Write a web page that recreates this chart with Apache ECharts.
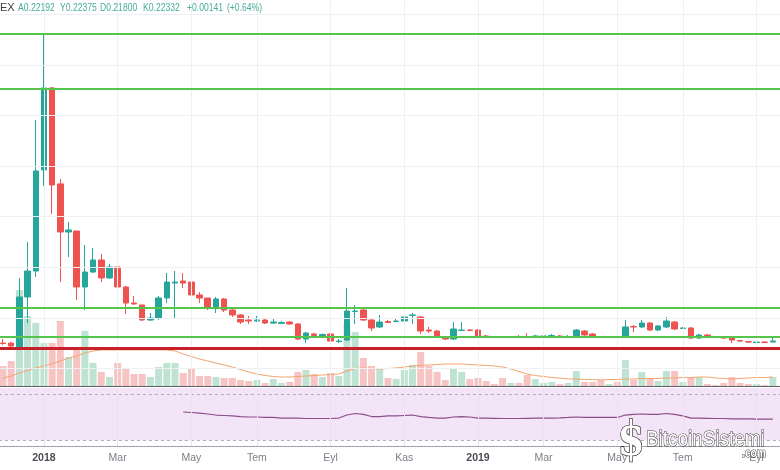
<!DOCTYPE html>
<html>
<head>
<meta charset="utf-8">
<script src="https://cdn.jsdelivr.net/npm/echarts/dist/echarts.min.js"></script>
<style>
html,body{margin:0;padding:0;background:#fff;}
#chart{width:780px;height:470px;}
</style>
</head>
<body>
<div id="chart"></div>
<script>
// ---- categories: weekly bars (Monday of each week) ----
const weekDates = (function () {
  const out = [];
  const t0 = Date.UTC(2017, 10, 27);
  for (let i = 0; i < 96; i++) out.push(new Date(t0 + i * 7 * 864e5).toISOString().slice(0, 10));
  return out;
})();

// ---- tick labels ----
const tickDates = ['2018-01-01','2018-03-05','2018-05-07','2018-07-02','2018-09-03','2018-11-05','2019-01-07','2019-03-04','2019-05-06','2019-07-01','2019-09-02'];
const tickTexts = ['2018','Mar','May','Tem','Eyl','Kas','2019','Mar','May','Tem','Eyl'];
const priceGridLevels = [0, 0.5, 1.0, 1.5, 2.0, 2.5, 3.0, 3.5];

// ---- OHLC ----
const open = [0.250,0.250,0.211,0.706,0.963,1.963,2.775,1.825,1.349,1.359,
  0.805,0.953,1.072,0.894,1.003,0.805,0.646,0.627,0.478,0.498,
  0.696,0.844,0.864,0.854,0.726,0.696,0.597,0.686,0.577,0.528,
  0.478,0.468,0.478,0.448,0.444,0.458,0.439,0.290,0.340,0.320,
  0.340,0.265,0.280,0.562,0.577,0.478,0.409,0.463,0.463,0.468,
  0.523,0.508,0.379,0.369,0.310,0.290,0.374,0.379,0.379,0.320,
  0.310,0.310,0.305,0.315,0.315,0.315,0.315,0.315,0.320,0.310,
  0.320,0.369,0.340,0.315,0.305,0.310,0.310,0.414,0.409,0.448,
  0.379,0.409,0.458,0.394,0.399,0.300,0.330,0.310,0.310,0.300,
  0.275,0.265,0.255,0.260,0.260];
const close = [0.246,0.221,0.706,0.963,1.953,2.775,1.815,1.349,1.369,0.805,
  0.953,1.072,0.894,1.003,0.805,0.646,0.637,0.478,0.498,0.696,
  0.854,0.854,0.844,0.726,0.696,0.597,0.686,0.577,0.528,0.458,
  0.468,0.478,0.448,0.458,0.453,0.439,0.290,0.349,0.325,0.335,
  0.270,0.270,0.567,0.567,0.478,0.399,0.458,0.453,0.468,0.508,
  0.528,0.369,0.369,0.310,0.290,0.389,0.379,0.374,0.320,0.310,
  0.305,0.305,0.310,0.310,0.310,0.320,0.320,0.325,0.305,0.315,
  0.379,0.330,0.310,0.310,0.310,0.305,0.409,0.409,0.448,0.379,
  0.419,0.468,0.389,0.399,0.300,0.330,0.310,0.305,0.300,0.280,
  0.270,0.260,0.260,0.255,0.270];
const low = [0.231,0.211,0.201,0.448,0.904,1.805,1.528,0.854,1.102,0.676,
  0.577,0.943,0.854,0.884,0.726,0.538,0.627,0.468,0.468,0.478,
  0.646,0.488,0.795,0.627,0.646,0.577,0.547,0.557,0.508,0.439,
  0.439,0.458,0.439,0.439,0.439,0.429,0.280,0.250,0.310,0.310,
  0.260,0.250,0.270,0.439,0.468,0.369,0.399,0.448,0.458,0.458,
  0.439,0.340,0.349,0.300,0.280,0.280,0.369,0.369,0.310,0.305,
  0.300,0.300,0.300,0.300,0.300,0.310,0.310,0.310,0.300,0.300,
  0.310,0.320,0.305,0.300,0.300,0.300,0.300,0.359,0.399,0.369,
  0.369,0.399,0.379,0.389,0.290,0.290,0.300,0.300,0.290,0.250,
  0.260,0.250,0.250,0.250,0.260];
const high = [0.290,0.260,0.894,1.250,2.458,3.319,2.785,1.874,1.448,1.359,
  1.221,1.191,1.132,1.033,1.082,0.815,0.716,0.627,0.547,0.716,
  0.943,0.963,0.943,0.864,0.755,0.696,0.706,0.696,0.587,0.538,
  0.518,0.518,0.488,0.498,0.468,0.468,0.448,0.359,0.349,0.345,
  0.349,0.290,0.795,0.627,0.587,0.488,0.528,0.478,0.488,0.567,
  0.547,0.518,0.409,0.379,0.320,0.458,0.458,0.389,0.389,0.330,
  0.320,0.320,0.320,0.330,0.349,0.330,0.325,0.340,0.330,0.330,
  0.389,0.379,0.349,0.320,0.320,0.320,0.478,0.429,0.478,0.458,
  0.429,0.508,0.468,0.409,0.409,0.340,0.340,0.320,0.320,0.310,
  0.280,0.270,0.270,0.270,0.310];

// ---- volume and its moving average ----
const volume = [2.0,2.5,9.6,7.0,6.3,4.3,4.3,6.5,2.9,3.6,
  5.5,2.3,1.4,0.9,2.3,1.7,1.2,1.2,0.9,1.9,
  2.3,2.3,1.3,1.7,1.0,1.0,0.9,0.8,0.8,0.6,
  0.5,0.6,0.3,0.7,0.3,0.4,1.4,1.6,1.2,0.9,
  1.3,1.0,6.2,5.4,2.8,2.0,1.7,0.8,0.7,1.6,
  2.1,3.4,2.0,1.4,0.6,1.7,1.4,0.7,0.8,0.5,
  0.2,0.8,0.3,0.3,1.1,0.7,0.3,0.4,0.2,0.3,
  1.5,0.4,0.4,0.6,0.2,0.4,2.6,0.6,1.4,0.8,
  0.5,1.5,1.5,0.4,0.9,0.9,0.2,0.1,0.3,0.9,
  0.3,0.2,0.2,0.1,0.9];
const volumeMA = [0.8,1.0,1.3,1.55,1.8,2.0,2.25,2.5,2.8,3.0,
  3.3,3.5,3.6,3.6,3.6,3.6,3.6,3.6,3.6,3.6,
  3.6,3.5,3.2,2.95,2.7,2.5,2.3,2.1,1.9,1.65,
  1.4,1.2,1.05,0.95,0.9,0.9,0.95,1.0,1.05,1.1,
  1.15,1.2,1.5,1.75,1.8,1.75,1.7,1.75,1.8,1.9,
  2.0,2.05,2.1,2.15,2.2,2.2,2.2,2.15,2.1,2.05,
  2.0,1.9,1.7,1.45,1.2,1.05,0.95,0.85,0.8,0.7,
  0.7,0.65,0.65,0.6,0.65,0.65,0.7,0.7,0.75,0.75,
  0.75,0.8,0.8,0.85,0.85,0.9,0.9,0.8,0.75,0.7,
  0.75,0.8,0.85,0.85,0.9];

// ---- oscillator (bottom pane) ----
const oscillator = [null,null,null,null,null,null,null,null,null,null,
  null,null,null,null,null,null,null,null,null,null,null,null,
  54.3,53.9,53.4,52.6,51.7,51.3,50.9,50.4,50.0,50.0,
  49.6,49.6,49.1,49.1,49.1,48.7,48.7,48.7,48.7,49.1,
  51.7,53.0,52.2,50.4,50.4,50.9,50.9,51.3,51.7,50.4,
  49.6,49.1,49.1,50.0,50.4,50.0,49.1,49.1,48.9,48.7,
  48.7,48.7,48.9,49.1,49.1,49.1,49.3,49.6,50.0,49.6,
  49.6,49.6,49.6,49.6,51.7,52.2,52.6,52.2,52.2,53.0,
  52.2,50.9,49.1,49.1,48.9,48.7,48.7,48.3,48.3,48.3,
  48.1,48.1,48.1];
const oscBands = [70, 30];

// ---- drawn levels ----
const greenLevels = [3.309, 2.771, 0.602, 0.312];
const redLevels = [0.203];

// ---- legend text ----
const legendPrefix = 'EX';
const legendValues = ['A0.22192', 'Y0.22375', 'D0.21800', 'K0.22332', '+0.00141', '(+0.64%)'];
const legendX = [18, 60, 100, 143, 187, 227];

const UP = '#26a69a', DOWN = '#ef5350';
const candleData = open.map((o, i) => [o, close[i], low[i], high[i]]);
const volData = volume.map((v, i) => ({
  value: v,
  itemStyle: { color: close[i] >= open[i] ? '#bfe3d3' : '#f7c4c4' }
}));
const empty = weekDates.map(() => null);
const tickIdx = tickDates.map(d => weekDates.indexOf(d));
const tickMap = {};
tickDates.forEach((d, k) => { tickMap[d] = tickTexts[k]; });

const L = -1.1, R = -5.15;
const gridBase = { left: L, right: R, containLabel: false, outerBoundsMode: 'none' };
const hiddenX = (gi) => ({
  type: 'category', gridIndex: gi, data: weekDates, boundaryGap: true,
  axisLine: { show: false }, axisTick: { show: false }, axisLabel: { show: false }, splitLine: { show: false }
});
const FONT = '"Liberation Sans", Arial, sans-serif';

const graphics = [
  { type: 'text', x: 0, y: 8, z: 10, style: { text: legendPrefix, fill: '#3b3e46', font: '11px ' + FONT, verticalAlign: 'middle' } }
].concat(legendValues.map((t, k) => ({
  type: 'text', x: legendX[k], y: 8, z: 10, scaleX: 0.78,
  style: { text: t, fill: '#45ad98', font: '11px ' + FONT, verticalAlign: 'middle' }
}))).concat([
  { type: 'text', x: 631, y: 443, z: 20, scaleX: 0.85, style: { text: '$', fill: '#ffffff', stroke: '#3a3a3a', lineWidth: 1.6, font: 'bold 46px "DejaVu Serif", serif', align: 'center', verticalAlign: 'middle' } },
  { type: 'text', x: 646, y: 440, z: 20, scaleX: 0.86, style: { text: 'BitcoinSistemi', fill: '#ffffff', stroke: '#3a3a3a', lineWidth: 1.1, font: '22px ' + FONT, verticalAlign: 'middle' } },
  { type: 'text', x: 754, y: 454, z: 20, scaleX: 0.85, style: { text: '.com', fill: '#ffffff', stroke: '#3a3a3a', lineWidth: 1, font: 'bold 12px ' + FONT, align: 'center', verticalAlign: 'middle' } }
]);

const chart = echarts.init(document.getElementById('chart'), null, { renderer: 'canvas' });
chart.setOption({
  animation: false,
  backgroundColor: '#ffffff',
  grid: [
    Object.assign({ top: 0, bottom: 84 }, gridBase),
    Object.assign({ top: 186, bottom: 84 }, gridBase),
    Object.assign({ top: 388, bottom: 24 }, gridBase)
  ],
  xAxis: [
    hiddenX(0),
    Object.assign(hiddenX(1), { axisLine: { show: true, lineStyle: { color: '#5d606b', width: 1 } } }),
    {
      type: 'category', gridIndex: 2, data: weekDates, boundaryGap: true,
      axisLine: { show: true, lineStyle: { color: '#a0a3ab', width: 1 } },
      axisTick: { show: true, inside: true, length: 3, alignWithLabel: true, interval: (i, v) => tickMap[v] !== undefined, lineStyle: { color: '#a0a3ab' } },
      splitLine: { show: false },
      axisLabel: {
        show: true, margin: 7, hideOverlap: false,
        interval: (i, v) => tickMap[v] !== undefined,
        formatter: (v) => { const t = tickMap[v] || ''; return /^\d{4}$/.test(t) ? '{y|' + t + '}' : '{m|' + t + '}'; },
        rich: {
          y: { fontSize: 10.5, fontWeight: 'bold', color: '#4a4d55', fontFamily: FONT },
          m: { fontSize: 10.5, color: '#7c7f88', fontFamily: FONT }
        }
      }
    }
  ],
  yAxis: [
    { type: 'value', gridIndex: 0, min: -0.175, max: 3.645, show: false },
    { type: 'value', gridIndex: 1, min: 0, max: 20, show: false },
    { type: 'value', gridIndex: 2, min: 25, max: 75, show: false }
  ],
  series: [
    { // background grid of the main pane
      type: 'line', xAxisIndex: 0, yAxisIndex: 0, data: empty, symbol: 'none', silent: true, z: 0,
      markLine: {
        silent: true, symbol: ['none', 'none'], label: { show: false }, animation: false,
        lineStyle: { color: '#eef0f3', width: 1, type: 'solid' },
        data: priceGridLevels.map(v => ({ yAxis: v })).concat(tickIdx.map(i => ({ xAxis: i })))
      }
    },
    {
      type: 'bar', xAxisIndex: 1, yAxisIndex: 1, data: volData, barWidth: 7, silent: true, z: 1
    },
    {
      type: 'line', xAxisIndex: 1, yAxisIndex: 1, data: volumeMA, symbol: 'none', silent: true, z: 2,
      lineStyle: { color: '#f3a56d', width: 1 }
    },
    {
      type: 'candlestick', xAxisIndex: 0, yAxisIndex: 0, data: candleData, barWidth: 6, z: 3, silent: true,
      itemStyle: { color: UP, color0: DOWN, borderColor: UP, borderColor0: DOWN, borderColorDoji: UP, borderWidth: 1 }
    },
    { // drawn horizontal levels
      type: 'line', xAxisIndex: 0, yAxisIndex: 0, data: empty, symbol: 'none', silent: true, z: 6,
      markLine: {
        silent: true, symbol: ['none', 'none'], label: { show: false }, animation: false,
        data: greenLevels.map(v => ({ yAxis: v, lineStyle: { color: '#55c54c', width: 2, type: 'solid' } }))
          .concat(redLevels.map(v => ({ yAxis: v, lineStyle: { color: '#c8202a', width: 3, type: 'solid' } })))
      }
    },
    { // oscillator pane background
      type: 'line', xAxisIndex: 2, yAxisIndex: 2, data: empty, symbol: 'none', silent: true, z: 0,
      markArea: { silent: true, itemStyle: { color: '#f3e4f8' }, data: [[{ yAxis: 30 }, { yAxis: 75 }]] },
      markLine: {
        silent: true, symbol: ['none', 'none'], label: { show: false }, animation: false,
        data: oscBands.map(v => ({ yAxis: v, lineStyle: { color: '#b3a9bd', width: 1, type: [3, 3] } }))
          .concat(tickIdx.map(i => ({ xAxis: i, lineStyle: { color: '#ebe2ef', width: 1, type: 'solid' } })))
      }
    },
    {
      type: 'line', xAxisIndex: 2, yAxisIndex: 2, data: oscillator, symbol: 'none', silent: true, z: 3,
      connectNulls: false, lineStyle: { color: '#8b4f8b', width: 1.2 }
    }
  ],
  graphic: graphics
});
</script>
</body>
</html>
